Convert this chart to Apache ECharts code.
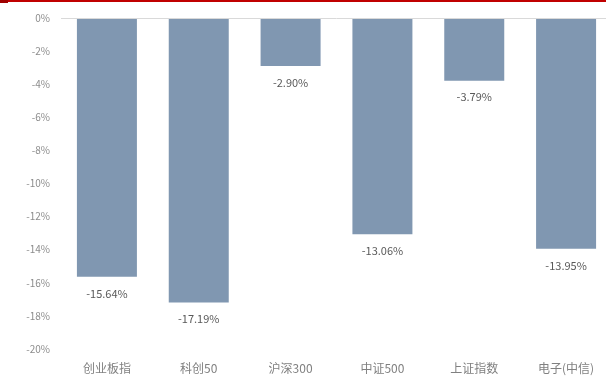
<!DOCTYPE html>
<html>
<head>
  <meta charset="utf-8" />
  <script src="https://cdn.jsdelivr.net/npm/echarts@6/dist/echarts.min.js"></script>
  <style>
    html, body { margin: 0; padding: 0; background: #fff; overflow: hidden; }
    #char1 { width: 620px; height: 385px; }
  </style>
</head>
<body>
  <div id="char1"></div>
  <script>
    const categoryList = ['创业板指', '科创50', '沪深300', '中证500', '上证指数', '电子(中信)']
    const changeList = [-15.64, -17.19, -2.90, -13.06, -3.79, -13.95]
    const yMin = -20
    const yMax = 0
    const yStep = 2

    const myChart = echarts.init(document.getElementById('char1'))
    const option = {
      animation: false,
      textStyle: {
        fontFamily: '"Noto Sans CJK SC", "Liberation Sans", sans-serif'
      },
      // the picture is cut on the right, so the grid runs past 606px
      grid: {
        left: 61,
        top: 18,
        width: 551,
        bottom: 36
      },
      graphic: [
        {
          type: 'rect',
          shape: { x: 0, y: 0, width: 606, height: 2 },
          style: { fill: '#c00000' }
        },
        {
          type: 'rect',
          shape: { x: 0, y: 0, width: 8, height: 3 },
          style: { fill: '#a00000' }
        }
      ],
      xAxis: {
        type: 'category',
        data: categoryList,
        position: 'bottom',
        axisLine: { show: false, onZero: false },
        axisTick: { show: false },
        axisLabel: {
          color: '#808080',
          fontSize: 12,
          margin: 13
        }
      },
      yAxis: {
        type: 'value',
        min: yMin,
        max: yMax,
        interval: yStep,
        axisLine: { show: false },
        axisTick: { show: false },
        splitLine: { show: false },
        axisLabel: {
          color: '#8c8c8c',
          fontSize: 10,
          margin: 11,
          formatter: (v) => v + '%'
        }
      },
      series: [
        {
          type: 'bar',
          data: changeList,
          barWidth: 60,
          itemStyle: { color: '#8097b1' },
          label: {
            show: true,
            position: 'bottom',
            distance: 11,
            color: '#595959',
            fontSize: 11,
            formatter: (p) => p.value.toFixed(2) + '%'
          },
          markLine: {
            silent: true,
            symbol: 'none',
            label: { show: false },
            lineStyle: { color: '#d9d9d9', type: 'solid', width: 1 },
            data: [{ yAxis: 0 }]
          }
        }
      ]
    }
    myChart.setOption(option)
  </script>
</body>
</html>
